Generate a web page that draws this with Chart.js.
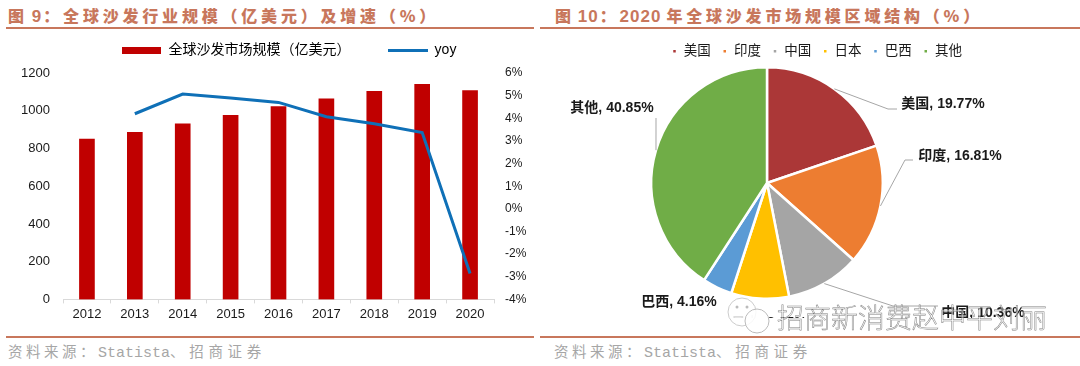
<!DOCTYPE html>
<html>
<head>
<meta charset="utf-8">
<script src="https://cdn.jsdelivr.net/npm/chart.js@4"></script>
<style>
	html, body { margin: 0; padding: 0; background: #fff; }
	body { position: relative; width: 1080px; height: 366px; overflow: hidden; font-family: "Liberation Sans", "Noto Sans CJK SC", sans-serif; }
	canvas { position: absolute; }
	.title { position: absolute; top: 2px; color: #c8775c; font-size: 16px; line-height: 26px; font-weight: 700; white-space: nowrap; }
	.title b { letter-spacing: 3.8px; font-family: "Noto Sans CJK SC"; }
	.title i { font-style: normal; font-family: "Liberation Sans"; font-size: 17px; letter-spacing: 1px; }
	.rule { position: absolute; height: 2px; background: #c8775c; }
	.source { position: absolute; top: 341px; color: #a6a6a6; font-size: 14.5px; line-height: 20px; white-space: nowrap; }
	.source b { font-weight: 400; letter-spacing: 3.5px; font-family: "Noto Sans CJK SC"; }
	.source b.tail { letter-spacing: 4.7px; }
	.source i { font-style: normal; font-family: "Liberation Mono"; font-size: 15px; }
	.mark { position: absolute; left: 777px; top: 299px; font-family: "Noto Sans CJK SC"; font-weight: 300; font-size: 27px; line-height: 36px; color: rgba(255,255,255,.5); -webkit-text-stroke: .5px #808080; white-space: nowrap; }
	.logo { position: absolute; left: 727px; top: 297px; }
</style>
</head>
<body>
<div class="title" style="left:8px"><b>图</b><i style="margin-left:4px;margin-right:1px">9</i><b>：全球沙发行业规模（亿美元）及增速（%）</b></div>
<div class="title" style="left:555px"><b>图</b><i style="margin-left:3px;margin-right:1px">10</i><b>：</b><i>2020</i><b style="margin-left:5px">年全球沙发市场规模区域结构（%）</b></div>
<div class="rule" style="left:6px;width:528px;top:27px"></div>
<div class="rule" style="left:540px;width:540px;top:27px"></div>
<canvas id="sizeChart" width="540" height="297" style="left:0;top:29px"></canvas>
<canvas id="regionChart" width="540" height="290" style="left:540px;top:28px"></canvas>
<div class="rule" style="left:6px;width:528px;top:336px"></div>
<div class="rule" style="left:540px;width:540px;top:336px"></div>
<div class="source" style="left:8px"><b>资料来源：</b><i>Statista</i><b class="tail">、招商证券</b></div>
<div class="source" style="left:554px"><b>资料来源：</b><i>Statista</i><b class="tail">、招商证券</b></div>
<svg class="logo" width="48" height="44" viewBox="0 0 48 44">
	<circle cx="15" cy="15" r="14" fill="rgba(255,255,255,.85)" stroke="#ccc"/>
	<circle cx="30" cy="24" r="12" fill="rgba(255,255,255,.85)" stroke="#bbb"/>
	<circle cx="10" cy="10" r="1.5" fill="#bbb"/>
	<circle cx="20" cy="10" r="1.5" fill="#bbb"/>
</svg>
<div class="mark">招商新消费赵中平刘丽</div>
<script>
const years = ['2012', '2013', '2014', '2015', '2016', '2017', '2018', '2019', '2020'];
const marketSize = [850, 885, 930, 975, 1022, 1063, 1103, 1140, 1107];
const yoy = [null, 4.2, 5.07, 4.9, 4.7, 4.07, 3.76, 3.37, -2.86];
const regions = ['美国', '印度', '中国', '日本', '巴西', '其他'];
const regionShare = [19.77, 16.81, 10.36, 8.05, 4.16, 40.85];
const regionColors = ['#ab3737', '#ed7d31', '#a5a5a5', '#ffc000', '#5b9bd5', '#70ad47'];

const textFont = '"Liberation Sans", "Noto Sans CJK SC", sans-serif';

// legend keys are long flat bars, so draw them as small canvases
function legendKey(w, h, color) {
	const c = document.createElement('canvas');
	c.width = w;
	c.height = h;
	const g = c.getContext('2d');
	g.fillStyle = color;
	g.fillRect(0, 0, w, h);
	return c;
}

// the original legends are not centred on their plots
function moveLegend(dx, dy) {
	return {
		id: 'moveLegend',
		afterLayout(chart) {
			chart.legend.left += dx;
			chart.legend.right += dx;
			chart.legend.top += dy;
			chart.legend.bottom += dy;
		}
	};
}

const config_size = {
	type: 'bar',
	data: {
		labels: years,
		datasets: [
			{
				type: 'line',
				label: 'yoy',
				data: yoy,
				yAxisID: 'y1',
				borderColor: '#0f70b7',
				borderWidth: 3,
				pointRadius: 0,
				tension: 0,
				order: 0,
			},
			{
				label: '全球沙发市场规模（亿美元）',
				data: marketSize,
				yAxisID: 'y',
				backgroundColor: '#c00000',
				barThickness: 15,
				order: 1,
			},
		]
	},
	options: {
		responsive: false,
		animation: false,
		layout: { padding: { top: 4, bottom: 1 } },
		plugins: {
			title: { display: false },
			legend: {
				position: 'top',
				labels: {
					usePointStyle: true,
					pointStyleWidth: 40,
					boxHeight: 8,
					padding: 16,
					color: '#1a1a1a',
					font: { family: textFont, size: 14 },
					generateLabels: () => [
						{ text: '全球沙发市场规模（亿美元）\u3000\u3000', pointStyle: legendKey(39, 7, '#c00000'), datasetIndex: 1, lineWidth: 0 },
						{ text: 'yoy', pointStyle: legendKey(40, 3, '#0f70b7'), datasetIndex: 0, lineWidth: 0 },
					],
				},
			},
		},
		scales: {
			x: {
				border: { color: '#d9d9d9' },
				grid: { drawOnChartArea: false, color: '#d9d9d9', tickLength: 4 },
				ticks: { color: '#1a1a1a', padding: 3, font: { family: textFont, size: 13 } },
			},
			y: {
				min: 0,
				max: 1200,
				border: { display: false },
				grid: { display: false },
				ticks: {
					stepSize: 200,
					color: '#1a1a1a',
					padding: 5,
					font: { family: textFont, size: 13 },
					callback: v => String(v),
				},
				afterFit: s => { s.width = 63; },
			},
			y1: {
				position: 'right',
				min: -4,
				max: 6,
				border: { display: false },
				grid: { display: false },
				ticks: {
					stepSize: 1,
					padding: 3,
					color: '#1a1a1a',
					font: { family: textFont, size: 12 },
					callback: v => v + '%',
				},
				afterFit: s => { s.width = 46; },
			},
		}
	},
	plugins: [moveLegend(19, -6)],
};

const size_chart = new Chart(document.getElementById('sizeChart'), config_size);

// label spot and leader elbow for each slice, in canvas pixels
const labelSpots = [
	{ x: 403, y: 76, elbow: [348, 81], end: [357, 81] },
	{ x: 420, y: 128, elbow: [365, 132], end: [373, 132] },
	{ x: 443, y: 285, elbow: [353, 278], end: [398, 278] },
	{ x: 229, y: 295 },
	{ x: 139, y: 274 },
	{ x: 72, y: 80, elbow: [116, 90], end: [116, 90] },
];

const pieLabels = {
	id: 'pieLabels',
	afterDatasetsDraw(chart) {
		const ctx = chart.ctx;
		const arcs = chart.getDatasetMeta(0).data;
		ctx.save();
		arcs.forEach((arc, i) => {
			const spot = labelSpots[i];
			const mid = (arc.startAngle + arc.endAngle) / 2;
			if (spot.elbow) {
				ctx.beginPath();
				ctx.moveTo(arc.x + Math.cos(mid) * arc.outerRadius, arc.y + Math.sin(mid) * arc.outerRadius);
				ctx.lineTo(spot.elbow[0], spot.elbow[1]);
				ctx.lineTo(spot.end[0], spot.end[1]);
				ctx.strokeStyle = '#a6a6a6';
				ctx.lineWidth = 1;
				ctx.stroke();
			}
			ctx.fillStyle = '#1a1a1a';
			ctx.font = 'bold 14px ' + textFont;
			ctx.textAlign = 'center';
			ctx.textBaseline = 'middle';
			ctx.fillText(regions[i] + ', ' + regionShare[i].toFixed(2) + '%', spot.x, spot.y);
		});
		ctx.restore();
	}
};

const config_region = {
	type: 'pie',
	data: {
		labels: regions,
		datasets: [
			{
				data: regionShare,
				backgroundColor: regionColors,
				borderColor: '#fff',
				borderWidth: 2.5,
			},
		]
	},
	options: {
		responsive: false,
		animation: false,
		layout: { padding: { top: 3, left: 0, right: 86, bottom: 18 } },
		plugins: {
			title: { display: false },
			legend: {
				position: 'top',
				labels: {
					boxWidth: 5,
					boxHeight: 5,
					padding: 11.5,
					color: '#1a1a1a',
					font: { family: textFont, size: 13.5 },
				},
			},
		},
	},
	plugins: [pieLabels, moveLegend(50, 2)],
};

const region_chart = new Chart(document.getElementById('regionChart'), config_region);
</script>
</body>
</html>
